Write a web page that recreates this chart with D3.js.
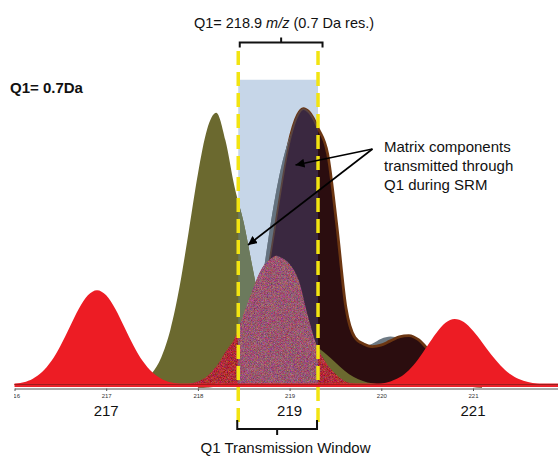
<!DOCTYPE html>
<html>
<head>
<meta charset="utf-8">
<script src="https://cdn.jsdelivr.net/npm/d3@7"></script>
<style>
  html, body { margin: 0; padding: 0; background: #fff; }
  svg { display: block; }
  text { font-family: "Liberation Sans", Arial, Helvetica, sans-serif; }
</style>
</head>
<body>
<svg id="chart" width="558" height="459"></svg>
<script>
// ---------------- data (m/z, relative intensity) ----------------
const peak217 = [[216.0,0.4],[216.1,1.0],[216.2,2.3],[216.3,4.7],[216.4,8.6],[216.5,14.2],[216.6,20.9],[216.7,27.6],[216.8,32.6],[216.9,34.5],[217.0,32.6],[217.1,27.6],[217.2,20.9],[217.3,14.2],[217.4,8.6],[217.5,4.7],[217.6,2.3],[217.7,1.0],[217.8,0.4],[217.9,0.1],[218.0,0]];
const peakOlive = [[217.1,0],[217.2,0.2],[217.3,0.6],[217.4,1.7],[217.5,4.4],[217.6,10.0],[217.7,20.1],[217.8,35.7],[217.9,55.8],[218.0,76.7],[218.1,92.9],[218.2,99],[218.3,89],[218.4,72],[218.5,59],[218.6,42],[218.7,26],[218.8,17],[218.9,13],[219.0,13],[219.1,14.2],[219.2,14.7],[219.3,13.6],[219.4,11.2],[219.5,8.2],[219.6,5.2],[219.7,2.9],[219.8,1.5],[219.9,0.6],[220.0,0.2],[220.1,0]];
const peakGrey = [[218.1,0],[218.2,0.5],[218.3,1.5],[218.4,4],[218.5,9.5],[218.6,20],[218.7,38],[218.8,60],[218.9,78],[219.0,90],[219.1,96],[219.2,95],[219.3,88],[219.4,76],[219.5,52],[219.6,25],[219.7,15],[219.8,14],[219.9,15],[220.0,16.8],[220.1,17.6],[220.2,17],[220.3,14.5],[220.4,11],[220.5,7],[220.6,4],[220.7,2],[220.8,0.8],[220.9,0.2],[221.0,0]];
const peakDark = [[218.0,0],[218.1,0.1],[218.2,0.4],[218.3,1.2],[218.4,3.1],[218.5,7.4],[218.6,15.5],[218.7,29],[218.8,47],[218.9,68],[219.0,87],[219.1,98],[219.15,100],[219.2,99],[219.3,93],[219.4,84],[219.5,58],[219.6,28],[219.7,17],[219.8,14.5],[219.9,13.5],[220.0,14],[220.1,15.5],[220.2,17],[220.3,17.5],[220.4,16],[220.5,12.5],[220.6,8.5],[220.7,5],[220.8,2.5],[220.9,1],[221.0,0.3],[221.1,0]];
const peakMatrix = [[217.8,0],[217.9,0.4],[218.0,1.3],[218.1,3.2],[218.2,6.7],[218.3,12],[218.4,17],[218.5,26],[218.6,35],[218.7,42.5],[218.8,46],[218.85,47],[218.9,46.5],[219.0,44],[219.1,38],[219.2,25],[219.3,14],[219.4,8],[219.5,4],[219.6,1.5],[219.7,0.5],[219.8,0]];
const peak221 = [[219.8,0],[219.9,0.2],[220.0,0.5],[220.1,1.3],[220.2,2.8],[220.3,5.4],[220.4,9.3],[220.5,14.1],[220.6,18.9],[220.7,22.6],[220.8,24],[220.9,22.9],[221.0,19.7],[221.1,15.5],[221.2,11.0],[221.3,7.1],[221.4,4.1],[221.5,2.2],[221.6,1.1],[221.7,0.5],[221.8,0.2],[221.9,0.1],[222.0,0]];

const q1Window = [218.44, 219.31];      // transmission window (m/z)
const windowTop = 111;                  // top of shaded window (intensity)
const axisTicks = [216, 217, 218, 219, 220, 221];
const bigLabels = [217, 219, 221];
const titleText = ["Q1= 218.9 ", "m/z", " (0.7 Da res.)"];
const sideLabel = "Q1= 0.7Da";
const noteLines = ["Matrix components", "transmitted through", "Q1 during SRM"];
const bottomLabel = "Q1 Transmission Window";

// ---------------- drawing ----------------
const svg = d3.select("#chart");
const W = 558, H = 459;
const x = d3.scaleLinear().domain([216, 222]).range([14.5, 564.7]);
const y = d3.scaleLinear().domain([0, 100]).range([385, 110]);

const defs = svg.append("defs");
defs.append("clipPath").attr("id", "plotClip")
  .append("rect").attr("x", 14).attr("y", 0).attr("width", W - 14).attr("height", H);
defs.append("clipPath").attr("id", "winClip")
  .append("rect").attr("x", x(q1Window[0])).attr("y", 0)
  .attr("width", x(q1Window[1]) - x(q1Window[0])).attr("height", H);

function noiseFilter(id, m, seed) {
  const f = defs.append("filter").attr("id", id)
    .attr("x", "-5%").attr("y", "-5%").attr("width", "110%").attr("height", "110%")
    .attr("color-interpolation-filters", "sRGB");
  f.append("feTurbulence").attr("type", "fractalNoise").attr("baseFrequency", 1.3)
    .attr("numOctaves", 2).attr("seed", seed).attr("result", "n");
  f.append("feColorMatrix").attr("in", "n").attr("type", "matrix").attr("values", m).attr("result", "c");
  f.append("feComposite").attr("in", "c").attr("in2", "SourceGraphic").attr("operator", "in");
}
noiseFilter("noiseRed", "0.7 0 0 0 0.33  0 0.6 0 0 -0.12  0 0 0.6 0 -0.08  0 0 0 0 1", 4);
noiseFilter("noisePink", "0.6 0 0 0 0.30  0 0.6 0 0 0.04  0 0 0.6 0 0.14  0 0 0 0 1", 7);

const area = d3.area().x(d => x(d[0])).y0(y(0)).y1(d => y(d[1])).curve(d3.curveMonotoneX);
const line = d3.line().x(d => x(d[0])).y(d => y(d[1])).curve(d3.curveMonotoneX);

// shaded transmission window (behind peaks)
svg.append("rect")
  .attr("x", x(q1Window[0])).attr("y", y(windowTop))
  .attr("width", x(q1Window[1]) - x(q1Window[0])).attr("height", y(0) - y(windowTop))
  .attr("fill", "#c6d6e8");

function drawPeaks(g, c) {
  g.append("path").attr("d", area(peakGrey)).attr("fill", c.grey);
  g.append("path").attr("d", line(peakDark)).attr("fill", "none")
    .attr("stroke", c.brown).attr("stroke-width", c.bw).attr("stroke-linejoin", "round");
  g.append("path").attr("d", area(peakDark)).attr("fill", c.dark);
  g.append("path").attr("d", area(peakOlive)).attr("fill", c.olive);
  g.append("path").attr("d", area(peakMatrix)).attr("fill", "#a03050").attr("filter", `url(#${c.noise})`);
  g.append("path").attr("d", area(peak217)).attr("fill", "#ed1c24");
  g.append("path").attr("d", area(peak221)).attr("fill", "#ed1c24");
  g.append("rect").attr("x", x(216)).attr("y", 383.5).attr("width", x(222) - x(216)).attr("height", 3.5).attr("fill", "#e8222a");
  g.append("line").attr("x1", x(216)).attr("x2", x(222)).attr("y1", 384.5).attr("y2", 384.5)
    .attr("stroke", "#8a1a1a").attr("stroke-width", 0.8);
}

const outside = svg.append("g").attr("clip-path", "url(#plotClip)");
drawPeaks(outside, { grey: "#6e7a84", brown: "#6c3612", bw: 5.5, dark: "#2b0d0f", olive: "#6b692f", noise: "noiseRed" });
const inside = svg.append("g").attr("clip-path", "url(#winClip)");
drawPeaks(inside, { grey: "#64727f", brown: "#5a4440", bw: 3.5, dark: "#3a2840", olive: "#6c7a5d", noise: "noisePink" });

// axis
const axG = svg.append("g").attr("clip-path", "url(#plotClip)")
  .append("g").attr("transform", "translate(0,388.5)")
  .call(d3.axisBottom(x).tickValues(axisTicks).tickSize(2.5).tickSizeOuter(0).tickFormat(d3.format("d")));
axG.select(".domain").attr("stroke", "#555").attr("stroke-width", 1);
axG.selectAll(".tick line").attr("stroke", "#555");
axG.selectAll(".tick text").attr("font-size", 6).attr("fill", "#333").attr("dy", "0.6em")
  .style("font-family", "Liberation Sans, Arial, sans-serif");

// big labels
svg.selectAll("text.big").data(bigLabels).join("text").attr("class", "big")
  .attr("x", d => x(d)).attr("y", 416).attr("text-anchor", "middle")
  .attr("font-size", 15).attr("fill", "#111").text(d => d);

// yellow dashed window lines
svg.selectAll("line.win").data(q1Window).join("line").attr("class", "win")
  .attr("x1", d => x(d)).attr("x2", d => x(d)).attr("y1", 51).attr("y2", 426)
  .attr("stroke", "#f2e411").attr("stroke-width", 3.5).attr("stroke-dasharray", "14,7");

// brackets
const xl = x(q1Window[0]), xr = x(q1Window[1]);
svg.append("path")
  .attr("d", `M${xl + 1.5},47.5 V42.5 H${xr + 4.5} V47.5 M${(xl + xr) / 2 + 3},42.5 V37.5`)
  .attr("fill", "none").attr("stroke", "#111").attr("stroke-width", 2);
svg.append("path")
  .attr("d", `M${xl - 1},420 V429 H${xr - 1} V420 M${(xl + xr) / 2 - 1},429 V435`)
  .attr("fill", "none").attr("stroke", "#111").attr("stroke-width", 2);

// texts
const tt = svg.append("text").attr("x", 284).attr("y", 27.5).attr("text-anchor", "middle")
  .attr("font-size", 14.5).attr("fill", "#111");
tt.append("tspan").text(titleText[0]);
tt.append("tspan").attr("font-style", "italic").text(titleText[1]);
tt.append("tspan").text(titleText[2]);

svg.append("text").attr("x", 10).attr("y", 92.5).attr("font-size", 15).attr("font-weight", "bold")
  .attr("fill", "#111").text(sideLabel);

svg.append("text").attr("x", 285.5).attr("y", 453).attr("text-anchor", "middle")
  .attr("font-size", 15).attr("fill", "#111").text(bottomLabel);

svg.selectAll("text.note").data(noteLines).join("text").attr("class", "note")
  .attr("x", 384).attr("y", (d, i) => 152 + i * 19).attr("font-size", 15).attr("fill", "#111").text(d => d);

// arrows
defs.append("marker").attr("id", "arr").attr("viewBox", "0 0 10 10").attr("refX", 10).attr("refY", 5)
  .attr("markerWidth", 9).attr("markerHeight", 9).attr("markerUnits", "userSpaceOnUse")
  .attr("orient", "auto")
  .append("path").attr("d", "M0,0 L10,5 L0,10 Z").attr("fill", "#000");
const arrowStart = [372.5, 149];
[[295.5, 165], [248, 245]].forEach(t => {
  svg.append("line").attr("x1", arrowStart[0]).attr("y1", arrowStart[1]).attr("x2", t[0]).attr("y2", t[1])
    .attr("stroke", "#000").attr("stroke-width", 1.6).attr("marker-end", "url(#arr)");
});
</script>
</body>
</html>
